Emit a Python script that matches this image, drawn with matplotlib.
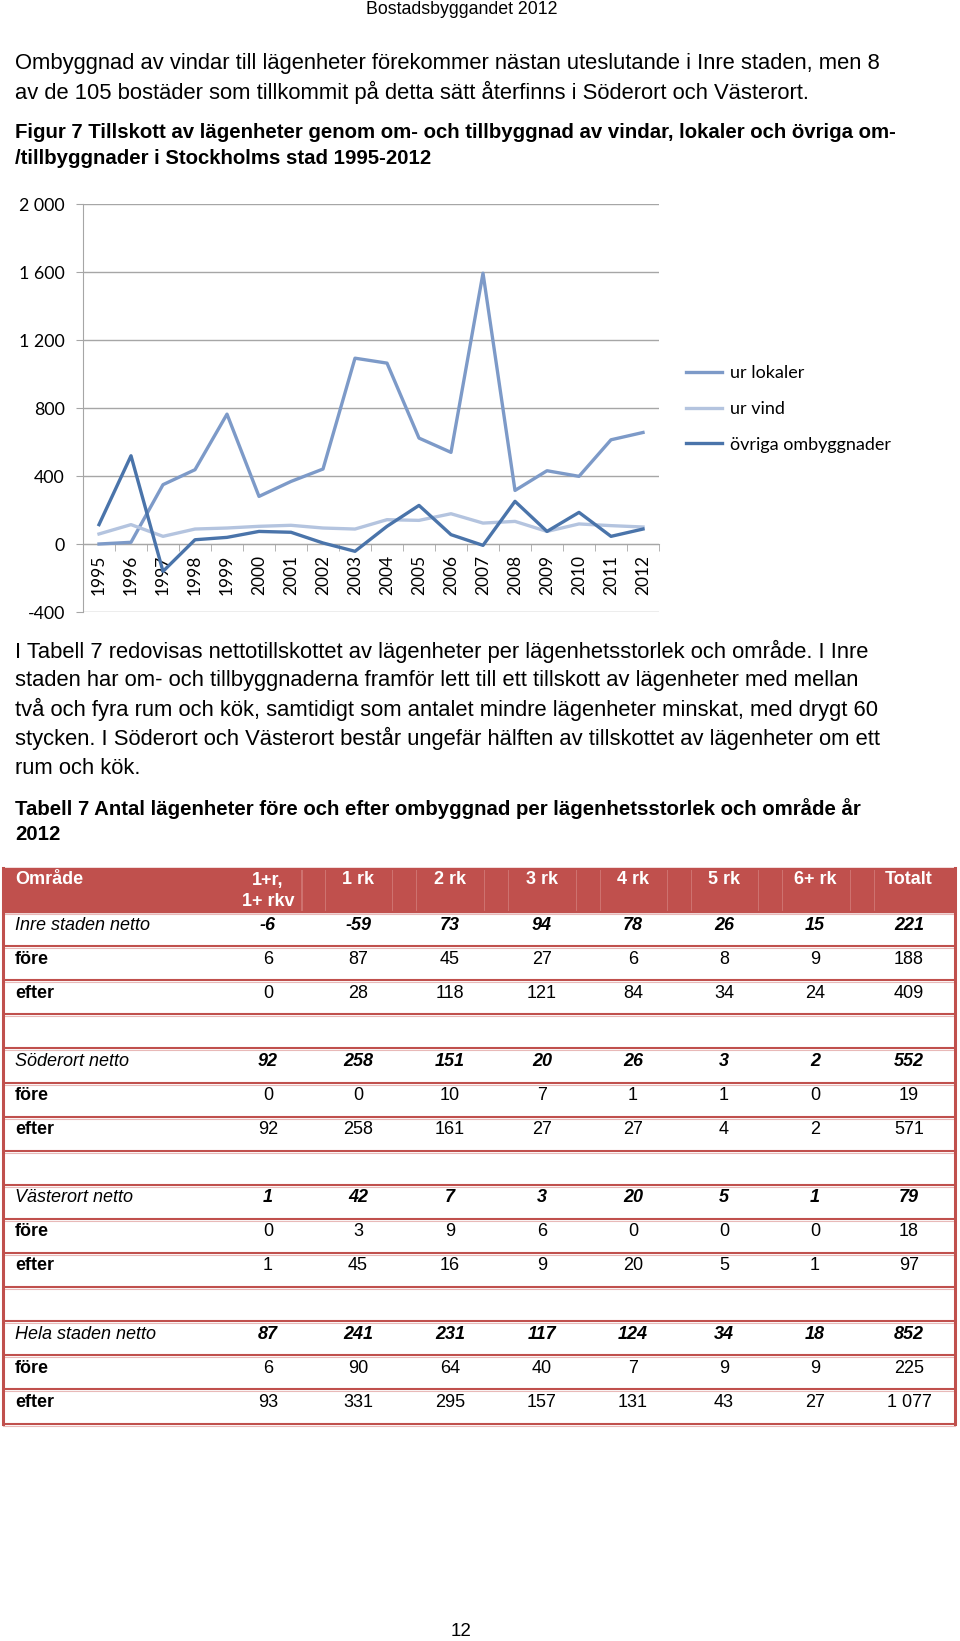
import matplotlib.pyplot as plt
from matplotlib.lines import Line2D

# --- chart data ---
years = list(range(1995, 2013))
ur_lokaler = [0, 10, 349, 437, 764, 280, 368, 441, 1093, 1064, 623, 539, 1593, 315, 431, 398, 613, 656]
ur_vind = [59, 114, 45, 88, 94, 104, 110, 94, 88, 143, 139, 178, 123, 133, 74, 118, 108, 100]
ovriga = [114, 519, -161, 25, 39, 74, 69, 6, -43, 104, 227, 55, -8, 251, 74, 186, 45, 88]
series_names = ["ur lokaler", "ur vind", "övriga ombyggnader"]
y_ticks = [-400, 0, 400, 800, 1200, 1600, 2000]

# --- table data ---
col_labels = ["1+r,\n1+ rkv", "1 rk", "2 rk", "3 rk", "4 rk", "5 rk", "6+ rk", "Totalt"]
areas = ["Inre staden", "Söderort", "Västerort", "Hela staden"]
inre_netto = [-6, -59, 73, 94, 78, 26, 15, 221]
inre_fore = [6, 87, 45, 27, 6, 8, 9, 188]
inre_efter = [0, 28, 118, 121, 84, 34, 24, 409]
soder_netto = [92, 258, 151, 20, 26, 3, 2, 552]
soder_fore = [0, 0, 10, 7, 1, 1, 0, 19]
soder_efter = [92, 258, 161, 27, 27, 4, 2, 571]
vaster_netto = [1, 42, 7, 3, 20, 5, 1, 79]
vaster_fore = [0, 3, 9, 6, 0, 0, 0, 18]
vaster_efter = [1, 45, 16, 9, 20, 5, 1, 97]
hela_netto = [87, 241, 231, 117, 124, 34, 18, 852]
hela_fore = [6, 90, 64, 40, 7, 9, 9, 225]
hela_efter = [93, 331, 295, 157, 131, 43, 27, 1077]

W, H = 960, 1641
fig = plt.figure(figsize=(W / 100, H / 100), dpi=100)
fig.patch.set_facecolor("white")

# page axes in pixel coordinates (y down)
page = fig.add_axes([0, 0, 1, 1])
page.set_xlim(0, W)
page.set_ylim(H, 0)
page.axis("off")

body = dict(family="Liberation Sans", color="black", va="center", ha="left")

page.text(462, 9, "Bostadsbyggandet 2012", fontsize=12.8, ha="center", va="center",
          family="Liberation Sans")

page.text(15, 63, "Ombyggnad av vindar till lägenheter förekommer nästan uteslutande i Inre staden, men 8",
          fontsize=15.8, **body)
page.text(15, 92, "av de 105 bostäder som tillkommit på detta sätt återfinns i Söderort och Västerort.",
          fontsize=15.8, **body)
page.text(15, 132, "Figur 7 Tillskott av lägenheter genom om- och tillbyggnad av vindar, lokaler och övriga om-",
          fontsize=14.7, weight="bold", **body)
page.text(15, 159, "/tillbyggnader i Stockholms stad 1995-2012", fontsize=14.7, weight="bold", **body)

para = [
    "I Tabell 7 redovisas nettotillskottet av lägenheter per lägenhetsstorlek och område. I Inre",
    "staden har om- och tillbyggnaderna framför lett till ett tillskott av lägenheter med mellan",
    "två och fyra rum och kök, samtidigt som antalet mindre lägenheter minskat, med drygt 60",
    "stycken. I Söderort och Västerort består ungefär hälften av tillskottet av lägenheter om ett",
    "rum och kök.",
]
for i, line in enumerate(para):
    page.text(15, 651 + i * 29.3, line, fontsize=15.8, **body)

page.text(15, 809, "Tabell 7 Antal lägenheter före och efter ombyggnad per lägenhetsstorlek och område år",
          fontsize=14.7, weight="bold", **body)
page.text(15, 835, "2012", fontsize=14.7, weight="bold", **body)

# --- table ---
red = "#c0504d"
tleft, tright = 3, 955
htop, hbot = 868, 912
row_h = 34.1
col_x = [268, 358, 450, 542, 633, 724, 815, 909]


def fmt(v):
    return f"{v:,}".replace(",", " ")


page.add_patch(plt.Rectangle((tleft, htop), tright - tleft, hbot - htop, color=red, zorder=1))
for a, b in zip(col_x[:-1], col_x[1:]):
    mid = (a + b) / 2
    for dx in (-12, 12):
        page.plot([mid + dx] * 2, [htop + 2, hbot - 2], color="#cf7471", lw=0.7, zorder=2)
for xx in (302, 325):
    page.plot([xx] * 2, [htop + 2, hbot - 2], color="#cf7471", lw=0.7, zorder=2)

tfont = dict(family="Liberation Sans", fontsize=13)
page.text(15, 880, "Område", color="white", weight="bold", ha="left", va="center", **tfont)
for x, lab in zip(col_x, col_labels):
    for j, part in enumerate(lab.split("\n")):
        page.text(x, 880 + j * 21, part, color="white", weight="bold", ha="center", va="center", **tfont)

blocks = [
    (areas[0], inre_netto, inre_fore, inre_efter),
    (areas[1], soder_netto, soder_fore, soder_efter),
    (areas[2], vaster_netto, vaster_fore, vaster_efter),
    (areas[3], hela_netto, hela_fore, hela_efter),
]
r = 0
for bi, (name, netto, fore, efter) in enumerate(blocks):
    rows = [(name + " netto", netto, "italic"), ("före", fore, "plain"), ("efter", efter, "plain")]
    for label, vals, kind in rows:
        yc = hbot + r * row_h + 13
        if kind == "italic":
            page.text(15, yc, label, style="italic", ha="left", va="center", **tfont)
            for x, v in zip(col_x, vals):
                page.text(x, yc, fmt(v), style="italic", weight="bold", ha="center", va="center", **tfont)
        else:
            page.text(15, yc, label, weight="bold", ha="left", va="center", **tfont)
            for x, v in zip(col_x, vals):
                page.text(x, yc, fmt(v), ha="center", va="center", **tfont)
        r += 1
    if bi < len(blocks) - 1:
        r += 1  # empty spacer row

nrows = r
for k in range(nrows + 1):
    yy = hbot + k * row_h
    page.plot([tleft, tright], [yy, yy], color=red, lw=1.5, zorder=3, solid_capstyle="butt")
    page.plot([tleft, tright], [yy + 2, yy + 2], color="#e8b9b8", lw=0.8, zorder=3)
page.plot([tleft, tleft], [htop, hbot + nrows * row_h], color=red, lw=2.2, zorder=3)
page.plot([tright, tright], [htop, hbot + nrows * row_h], color=red, lw=2.2, zorder=3)

page.text(461, 1631, "12", fontsize=13.5, ha="center", va="center", family="Liberation Sans")

# --- chart ---
ax = fig.add_axes([83 / W, 1 - 612 / H, 576 / W, (612 - 204) / H])
x = list(range(len(years)))
c_lok, c_vind, c_ovr = "#7d9ac8", "#b4c4df", "#4a74aa"
ax.plot(x, ur_lokaler, color=c_lok, lw=2.4, zorder=3)
ax.plot(x, ur_vind, color=c_vind, lw=2.4, zorder=3)
ax.plot(x, ovriga, color=c_ovr, lw=2.4, zorder=4)

ax.set_xlim(-0.5, len(years) - 0.5)
ax.set_ylim(-400, 2000)
ax.set_yticks(y_ticks)
ax.set_yticklabels([fmt(v) for v in y_ticks], family="Lato", fontsize=12.8)
ax.grid(axis="y", color="#a6a6a6", lw=1)
ax.set_axisbelow(True)
for s in ["top", "right"]:
    ax.spines[s].set_visible(False)
ax.spines["left"].set_color("#a6a6a6")
ax.spines["bottom"].set_position(("data", 0))
ax.spines["bottom"].set_color("#a6a6a6")
ax.tick_params(axis="y", length=5, color="#a6a6a6", pad=8)

ax.set_xticks(x)
ax.set_xticklabels([str(y) for y in years], rotation=90, family="Lato", fontsize=12.5)
ax.tick_params(axis="x", which="major", length=0, pad=8)
ax.set_xticks([k - 0.5 for k in range(len(years) + 1)], minor=True)
ax.tick_params(axis="x", which="minor", length=5, color="#a6a6a6", direction="out")
ax.patch.set_alpha(0)

handles = [Line2D([], [], color=c, lw=2.4) for c in (c_lok, c_vind, c_ovr)]
fig.legend(handles, series_names, loc="upper left", bbox_to_anchor=(686 / W, 1 - 365 / H),
           frameon=False, prop={"family": "Lato", "size": 13}, handlelength=2.0,
           handletextpad=0.45, labelspacing=1.1, borderaxespad=0, borderpad=0)

fig.savefig("out.png", dpi=100, facecolor="white")
